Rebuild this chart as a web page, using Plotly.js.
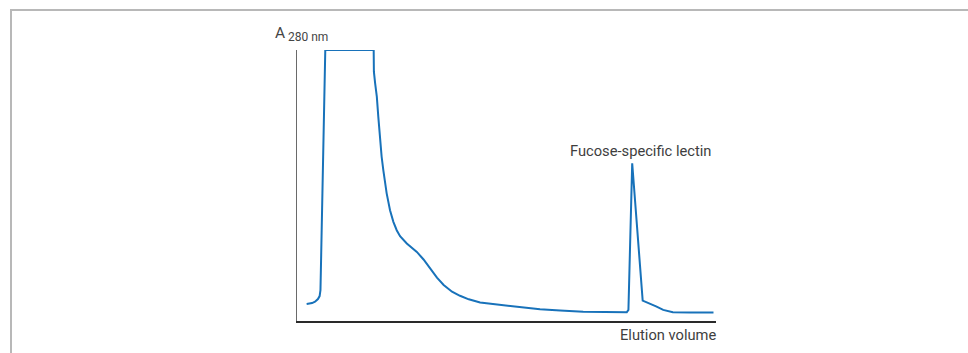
<!DOCTYPE html>
<html>
<head>
<meta charset="utf-8">
<script src="https://cdn.plot.ly/plotly-3.0.1.min.js"></script>
<style>
  html, body { margin: 0; padding: 0; background: #fff; }
  #wrap { position: relative; width: 968px; height: 353px; overflow: hidden; }
  #chart { position: absolute; left: 0; top: 0; width: 968px; height: 353px; }
  #frame { position: absolute; left: 10px; top: 9px; width: 970px; height: 360px;
           border-top: 2px solid #b8b8b8; border-left: 2px solid #b8b8b8; pointer-events: none; }
</style>
</head>
<body>
<div id="wrap">
  <div id="chart"></div>
  <div id="frame"></div>
</div>
<script>
// Elution volume (arbitrary units, 0-100) and absorbance at 280 nm (arbitrary units, plateau = detector saturation)
const elutionVolume = [
  2.3, 3.6, 4.3, 5.0, 5.4, 5.6, 5.7, 5.85, 6.1, 6.4, 6.75,
  18.3, 18.35, 18.65, 19.05, 19.4, 19.8, 20.2, 20.6, 21.4, 22.2, 23.0, 23.8, 24.6, 26.2,
  28.6, 30.2, 31.8, 33.4, 35.0, 37.0, 38.9, 41.0, 43.7, 48.4, 53.2, 58.0, 62.8, 68.3,
  73.5, 78.7, 79.1, 80.0, 82.5, 84.2, 85.7, 87.4, 89.7, 93.8, 99.4
];
const absorbance280 = [
  6.3, 6.6, 7.1, 8.1, 9.2, 11.4, 18.8, 32.5, 47.2, 70.5, 100,
  100, 92.0, 87.7, 82.8, 75.4, 66.8, 60.6, 55.7, 47.1, 40.9, 36.6, 33.5, 31.3, 28.6,
  25.5, 22.7, 19.3, 16.0, 13.3, 10.8, 9.3, 8.0, 6.8, 5.9, 5.2, 4.3, 3.9, 3.4,
  3.3, 3.2, 4.1, 58.2, 7.5, 6.5, 5.4, 4.1, 3.2, 3.1, 3.1
];
const peakLabel = "Fucose-specific lectin";
const peakLabelPos = [81.9, 62.7];
const xAxisLabel = "Elution volume";

const trace = {
  x: elutionVolume,
  y: absorbance280,
  type: 'scatter',
  mode: 'lines',
  line: { color: '#1872ba', width: 2, shape: 'linear' },
  hoverinfo: 'skip'
};

const font = "Roboto, 'Liberation Sans', Arial, sans-serif";

const layout = {
  width: 968,
  height: 353,
  margin: { l: 297, r: 252, t: 50, b: 32, pad: 0 },
  paper_bgcolor: 'rgba(0,0,0,0)',
  plot_bgcolor: 'rgba(0,0,0,0)',
  showlegend: false,
  font: { family: font, color: '#3a3a3a' },
  xaxis: {
    range: [0, 100], showgrid: false, zeroline: false, showticklabels: false, ticks: '',
    showline: true, linecolor: '#2a2a2a', linewidth: 1.5, fixedrange: true
  },
  yaxis: {
    range: [0, 100], showgrid: false, zeroline: false, showticklabels: false, ticks: '',
    showline: true, linecolor: '#6a6a6a', linewidth: 1.5, fixedrange: true
  },
  annotations: [
    { text: 'A', xref: 'paper', yref: 'paper', x: -0.0575, y: 1.0609,
      xanchor: 'left', yanchor: 'middle', showarrow: false,
      font: { family: font, size: 15.5, color: '#454545' } },
    { text: '280 nm', xref: 'paper', yref: 'paper', x: -0.0263, y: 1.0498,
      xanchor: 'left', yanchor: 'middle', showarrow: false,
      font: { family: font, size: 12, color: '#454545' } },
    { text: peakLabel, xref: 'x', yref: 'y', x: peakLabelPos[0], y: peakLabelPos[1],
      xanchor: 'center', yanchor: 'middle', showarrow: false,
      font: { family: font, size: 14.7, color: '#3e3e3e' } },
    { text: xAxisLabel, xref: 'paper', yref: 'paper', x: 1.004, y: -0.0517,
      xanchor: 'right', yanchor: 'middle', showarrow: false,
      font: { family: font, size: 14.7, color: '#3e3e3e' } }
  ]
};

Plotly.newPlot('chart', [trace], layout, { staticPlot: true, displayModeBar: false });
</script>
</body>
</html>
